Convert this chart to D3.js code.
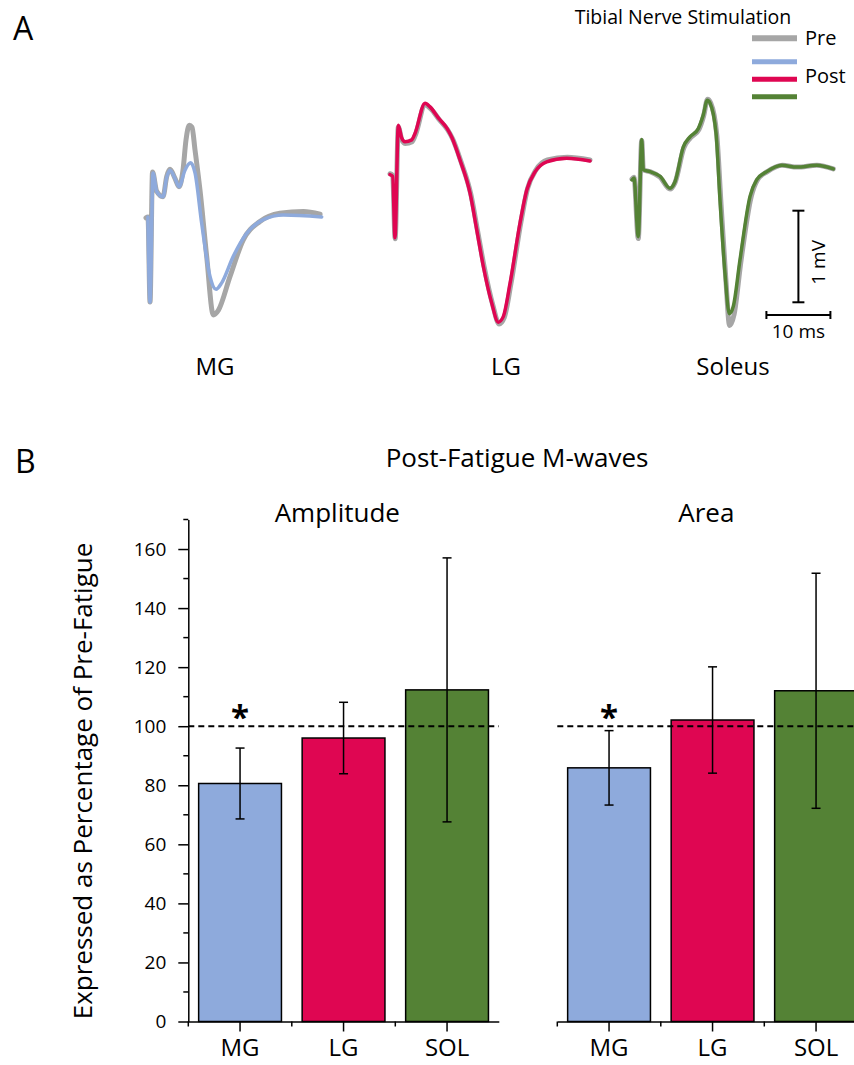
<!DOCTYPE html>
<html>
<head>
<meta charset="utf-8">
<script src="https://cdn.jsdelivr.net/npm/d3@7"></script>
<style>
  body { margin: 0; background: #fff; }
  svg { display: block; font-family: "Open Sans", sans-serif; }
</style>
</head>
<body>
<svg id="chart" width="854" height="1065"></svg>
<script>
// ---- data ----
// M-wave traces, [time ms, amplitude mV]
var mgPre = [[0,-0.02],[0.31,-0.01],[0.63,-0.94],[1.02,0.48],[1.67,0.27],[2.66,0.21],[3.23,0.43],[3.75,0.51],[4.53,0.41],[5.16,0.32],[5.78,0.5],[6.25,0.83],[6.77,0.99],[7.19,0.97],[7.66,0.72],[8.44,0.28],[9.48,-0.44],[10.52,-1.08],[11.3,-1.03],[13.13,-0.66],[15.2,-0.26],[17.8,-0.06],[20.9,0.03],[24.6,0.05],[27.2,0.02]];
var mgPost = [[0.3,-0.01],[0.63,-0.94],[1.1,0.47],[1.67,0.27],[2.66,0.21],[3.23,0.42],[3.75,0.5],[4.53,0.41],[5.16,0.32],[6.09,0.5],[6.98,0.58],[7.66,0.47],[8.7,-0.08],[10.0,-0.66],[10.94,-0.8],[11.83,-0.73],[13.64,-0.44],[15.73,-0.19],[18.33,-0.04],[21.45,0.01],[27.45,-0.01]];
var lgPre = [[0,-0.15],[0.42,-0.17],[0.8,-0.86],[1.3,0.36],[1.85,0.22],[2.4,0.18],[3.45,0.2],[3.95,0.27],[5.5,0.6],[6.35,0.56],[7.7,0.44],[9.0,0.33],[9.8,0.23],[11.1,-0.02],[12.65,-0.38],[13.7,-0.78],[14.75,-1.18],[16.05,-1.58],[17.05,-1.79],[17.85,-1.72],[18.9,-1.35],[20.45,-0.68],[21.5,-0.31],[22.8,-0.11],[24.6,0.0],[27.7,0.03],[31.25,0.0]];
var lgPost = [[0,-0.16],[0.42,-0.18],[0.78,-0.85],[1.3,0.38],[1.83,0.24],[2.34,0.2],[3.39,0.22],[3.91,0.29],[5.47,0.62],[6.25,0.58],[7.55,0.46],[8.86,0.35],[9.64,0.25],[10.94,0.0],[12.5,-0.36],[13.55,-0.76],[14.58,-1.16],[15.89,-1.56],[16.92,-1.77],[17.7,-1.71],[18.75,-1.35],[20.31,-0.69],[21.36,-0.33],[22.66,-0.13],[24.48,-0.02],[27.6,0.02],[31.25,-0.01]];
var solPre = [[0,-0.12],[0.31,-0.1],[0.98,-0.77],[1.52,0.3],[1.77,-0.02],[2.81,-0.04],[4.38,-0.1],[5.94,-0.23],[6.72,-0.16],[8.1,0.22],[9.15,0.33],[10.45,0.42],[11.2,0.57],[11.8,0.75],[12.3,0.71],[13.25,0.36],[13.9,-0.38],[14.65,-1.2],[15.25,-1.72],[15.95,-1.6],[17.0,-1.03],[18.6,-0.32],[19.6,-0.13],[21.15,-0.04],[23.5,0.03],[25.8,0.01],[28.9,0.03],[31.45,-0.01]];
var solPost = [[0,-0.13],[0.31,-0.11],[0.98,-0.75],[1.52,0.31],[1.77,-0.02],[2.81,-0.04],[4.38,-0.09],[5.94,-0.22],[6.72,-0.15],[8.02,0.23],[9.06,0.34],[10.36,0.43],[11.14,0.58],[11.77,0.74],[12.19,0.71],[13.13,0.38],[13.75,-0.35],[14.53,-1.15],[15.2,-1.59],[15.83,-1.51],[16.88,-1.0],[18.44,-0.31],[19.48,-0.13],[21.05,-0.04],[23.39,0.03],[25.73,0.01],[28.86,0.03],[31.45,-0.01]];

var traceNames = ["MG", "LG", "Soleus"];
var legendLabels = ["Pre", "Post"];

// post-fatigue M-wave, % of pre-fatigue
var muscles = ["MG", "LG", "SOL"];
var ampMean = [80.6, 96.0, 112.3];
var ampErr = [12.0, 12.1, 44.7];
var areaMean = [85.9, 102.1, 112.0];
var areaErr = [12.6, 18.0, 39.8];
var yTicks = [0, 20, 40, 60, 80, 100, 120, 140, 160];
var yMinor = [10, 30, 50, 70, 90, 110, 130, 150, 170];

var grey = "#a6a6a6";
var colors = ["#8eaadc", "#df0652", "#548235"];

var svg = d3.select("#chart");

// ---------- Panel A ----------
svg.append("text").attr("x", 13).attr("y", 40)
  .style("font-size", "32px").text("A");

var msPx = 6.4, mvPx = 91.6;
var panels = [
  {x0: 146, base: 216, pre: mgPre, post: mgPost, lx: 215},
  {x0: 390, base: 160, pre: lgPre, post: lgPost, lx: 506},
  {x0: 632, base: 168, pre: solPre, post: solPost, lx: 733}
];

panels.forEach(function (p, i) {
  var x = d3.scaleLinear().domain([0, 10]).range([p.x0, p.x0 + 10 * msPx]);
  var y = d3.scaleLinear().domain([0, 1]).range([p.base, p.base - mvPx]);
  p.x = x; p.y = y;
  var line = d3.line()
    .x(function (d) { return x(d[0]); })
    .y(function (d) { return y(d[1]); })
    .curve(d3.curveMonotoneX);

  svg.append("path").datum(p.pre)
    .attr("d", line).attr("fill", "none")
    .attr("stroke", grey).attr("stroke-width", 5)
    .attr("stroke-linejoin", "round").attr("stroke-linecap", "round");
  svg.append("path").datum(p.post)
    .attr("d", line).attr("fill", "none")
    .attr("stroke", colors[i]).attr("stroke-width", 3.5)
    .attr("stroke-linejoin", "round").attr("stroke-linecap", "round");

  svg.append("text").attr("x", p.lx).attr("y", 375)
    .attr("text-anchor", "middle").style("font-size", "24px")
    .text(traceNames[i]);
});

// scale bars (1 mV, 10 ms) using the soleus scales
var sx = panels[2].x, sy = panels[2].y;
var sb = svg.append("g").attr("stroke", "#000").attr("stroke-width", 2);
var vbX = sx(26), vTop = -0.466, vBot = -1.466;
sb.append("line").attr("x1", vbX).attr("x2", vbX).attr("y1", sy(vTop)).attr("y2", sy(vBot));
sb.append("line").attr("x1", vbX - 6).attr("x2", vbX + 6).attr("y1", sy(vTop)).attr("y2", sy(vTop));
sb.append("line").attr("x1", vbX - 6).attr("x2", vbX + 6).attr("y1", sy(vBot)).attr("y2", sy(vBot));
var hbY = 315;
sb.append("line").attr("x1", sx(21)).attr("x2", sx(31)).attr("y1", hbY).attr("y2", hbY);
sb.append("line").attr("x1", sx(21)).attr("x2", sx(21)).attr("y1", hbY - 4).attr("y2", hbY + 4);
sb.append("line").attr("x1", sx(31)).attr("x2", sx(31)).attr("y1", hbY - 4).attr("y2", hbY + 4);

svg.append("text").attr("transform", "translate(825," + sy(-1.03) + ") rotate(-90)")
  .attr("text-anchor", "middle").style("font-size", "19px").text("1 mV");
svg.append("text").attr("x", sx(26)).attr("y", 338)
  .attr("text-anchor", "middle").style("font-size", "19px").text("10 ms");

// legend
svg.append("text").attr("x", 683).attr("y", 24)
  .attr("text-anchor", "middle").style("font-size", "19.5px").text("Tibial Nerve Stimulation");
var legY = [38.3, 61.8, 79.2, 96.8];
[grey].concat(colors).forEach(function (c, i) {
  svg.append("line").attr("x1", 752).attr("x2", 797)
    .attr("y1", legY[i]).attr("y2", legY[i])
    .attr("stroke", c).attr("stroke-width", i === 0 ? 6 : 5);
});
svg.append("text").attr("x", 805).attr("y", 45).style("font-size", "20px").text(legendLabels[0]);
svg.append("text").attr("x", 805).attr("y", 83).style("font-size", "20px").text(legendLabels[1]);

// ---------- Panel B ----------
svg.append("text").attr("x", 15).attr("y", 473)
  .style("font-size", "32px").text("B");
svg.append("text").attr("x", 517).attr("y", 467)
  .attr("text-anchor", "middle").style("font-size", "26px").text("Post-Fatigue M-waves");

var y = d3.scaleLinear().domain([0, 170]).range([1021.5, 519.5]);

svg.append("text")
  .attr("transform", "translate(92,781) rotate(-90)")
  .attr("text-anchor", "middle").style("font-size", "26px")
  .text("Expressed as Percentage of Pre-Fatigue");

function barChart(x0, title, means, errs, withY) {
  var x = d3.scaleBand().domain(muscles)
    .range([x0, x0 + 310.5]).paddingInner(0.2).paddingOuter(0.1);
  var g = svg.append("g");

  g.append("text").attr("x", x0 + 149).attr("y", 522)
    .attr("text-anchor", "middle").style("font-size", "26px").text(title);

  g.selectAll(".bar").data(muscles).enter().append("rect")
    .attr("class", "bar")
    .attr("x", function (d) { return x(d); })
    .attr("width", x.bandwidth())
    .attr("y", function (d, i) { return y(means[i]); })
    .attr("height", function (d, i) { return y(0) - y(means[i]); })
    .attr("fill", function (d, i) { return colors[i]; })
    .attr("stroke", "#000").attr("stroke-width", 1.5);

  // reference line at 100 %
  g.append("line").attr("x1", x0).attr("x2", x0 + 310.5)
    .attr("y1", y(100)).attr("y2", y(100))
    .attr("stroke", "#000").attr("stroke-width", 2).attr("stroke-dasharray", "6,4");

  // error bars
  var eb = g.selectAll(".err").data(muscles).enter().append("g")
    .attr("class", "err").attr("stroke", "#000").attr("stroke-width", 1.5);
  var cx = function (d) { return x(d) + x.bandwidth() / 2; };
  eb.append("line").attr("x1", cx).attr("x2", cx)
    .attr("y1", function (d, i) { return y(means[i] + errs[i]); })
    .attr("y2", function (d, i) { return y(means[i] - errs[i]); });
  [1, -1].forEach(function (s) {
    eb.append("line")
      .attr("x1", function (d) { return cx(d) - 4.5; })
      .attr("x2", function (d) { return cx(d) + 4.5; })
      .attr("y1", function (d, i) { return y(means[i] + s * errs[i]); })
      .attr("y2", function (d, i) { return y(means[i] + s * errs[i]); });
  });

  g.append("text").attr("x", cx("MG")).attr("y", 729)
    .attr("text-anchor", "middle").style("font-size", "33px").style("font-weight", "bold")
    .text("*");

  // x axis
  var xa = g.append("g").attr("transform", "translate(0," + y(0) + ")")
    .call(d3.axisBottom(x).tickSize(10).tickSizeOuter(0).tickPadding(7));
  xa.select(".domain").attr("stroke-width", 1.5);
  xa.selectAll(".tick line").attr("stroke-width", 1.5);
  xa.selectAll(".tick text").style("font-size", "24px")
    .style("font-family", "'Open Sans', sans-serif").attr("fill", "#000");
  xa.selectAll(".minor").data(muscles).enter().append("line")
    .attr("x1", function (d) { return x(d) - x.paddingOuter() * x.step(); })
    .attr("x2", function (d) { return x(d) - x.paddingOuter() * x.step(); })
    .attr("y1", 0).attr("y2", 5)
    .attr("stroke", "#000").attr("stroke-width", 1.5);

  if (withY) {
    var ya = g.append("g").attr("transform", "translate(" + x0 + ",0)")
      .call(d3.axisLeft(y).tickValues(yTicks).tickSize(10).tickSizeOuter(0).tickPadding(12));
    ya.select(".domain").attr("stroke-width", 1.5);
    ya.selectAll(".tick line").attr("stroke-width", 1.5);
    ya.selectAll(".tick text").style("font-size", "19px")
      .style("font-family", "'Open Sans', sans-serif").attr("fill", "#000");
    ya.selectAll(".minor").data(yMinor).enter().append("line")
      .attr("x1", -5).attr("x2", 0)
      .attr("y1", function (d) { return y(d); }).attr("y2", function (d) { return y(d); })
      .attr("stroke", "#000").attr("stroke-width", 1.5);
  }
}

barChart(188.3, "Amplitude", ampMean, ampErr, true);
barChart(557.3, "Area", areaMean, areaErr, false);
</script>
</body>
</html>
